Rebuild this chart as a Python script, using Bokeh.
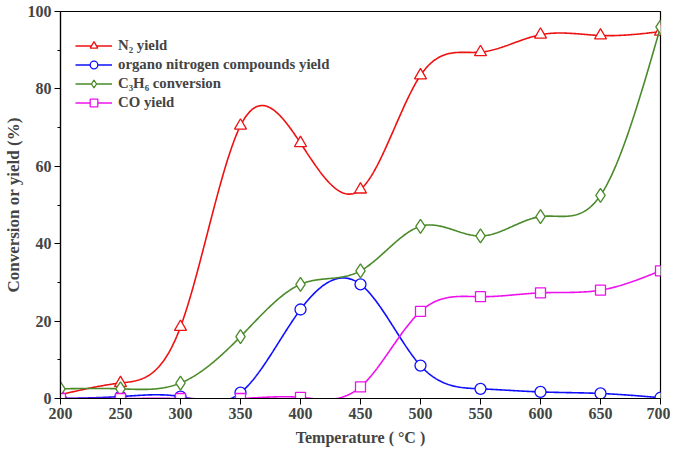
import numpy as np
from bokeh.plotting import figure
from bokeh.models import Legend, LegendItem, FixedTicker, Range1d
from bokeh.embed import file_html
from bokeh.resources import INLINE

temps = [200, 250, 300, 350, 400, 450, 500, 550, 600, 650, 700]
n2_yield = [1.0, 4.0, 18.5, 70.5, 66.0, 54.0, 83.5, 89.5, 94.0, 93.8, 94.8]
organo_n_yield = [0.0, 0.5, 0.5, 1.5, 23.0, 29.5, 8.5, 2.5, 1.7, 1.3, 0.2]
c3h6_conversion = [2.5, 2.5, 4.0, 16.0, 29.5, 33.0, 44.5, 42.0, 47.0, 52.5, 96.0]
co_yield = [0.0, 0.0, 0.0, 0.0, 0.3, 3.0, 22.5, 26.3, 27.3, 28.0, 33.0]

x_ticks = [200, 250, 300, 350, 400, 450, 500, 550, 600, 650, 700]
y_ticks = [0, 20, 40, 60, 80, 100]


def natural_spline(x, y, n=600):
    x = np.asarray(x, float)
    y = np.asarray(y, float)
    k = len(x)
    h = np.diff(x)
    A = np.zeros((k, k))
    b = np.zeros(k)
    A[0, 0] = 1
    A[-1, -1] = 1
    for i in range(1, k - 1):
        A[i, i - 1] = h[i - 1]
        A[i, i] = 2 * (h[i - 1] + h[i])
        A[i, i + 1] = h[i]
        b[i] = 3 * ((y[i + 1] - y[i]) / h[i] - (y[i] - y[i - 1]) / h[i - 1])
    c = np.linalg.solve(A, b)
    xs = np.linspace(x[0], x[-1], n)
    ys = np.empty_like(xs)
    for j, xv in enumerate(xs):
        i = min(np.searchsorted(x, xv, side="right") - 1, k - 2)
        i = max(i, 0)
        dx = xv - x[i]
        bi = (y[i + 1] - y[i]) / h[i] - h[i] * (2 * c[i] + c[i + 1]) / 3
        di = (c[i + 1] - c[i]) / (3 * h[i])
        ys[j] = y[i] + bi * dx + c[i] * dx ** 2 + di * dx ** 3
    return xs, ys


p = figure(frame_width=600, frame_height=387, output_backend="svg", toolbar_location=None,
           x_range=Range1d(200, 700), y_range=Range1d(0, 100),
           min_border_left=55, min_border_right=10, min_border_top=11, min_border_bottom=48)
p.outline_line_color = "black"
p.outline_line_width = 1.2
p.grid.visible = False
p.background_fill_color = "white"

FONT = "Liberation Serif"
for ax in (p.xaxis[0], p.yaxis[0]):
    ax.axis_line_width = 1.2
    ax.major_tick_in = 0
    ax.major_tick_out = 6
    ax.minor_tick_in = 0
    ax.minor_tick_out = 3
    ax.major_label_standoff = 3
    ax.major_label_text_font = FONT
    ax.major_label_text_font_style = "bold"
    ax.major_label_text_font_size = "16px"
    ax.axis_label_text_font = FONT
    ax.axis_label_text_font_style = "bold"

p.xaxis[0].ticker = FixedTicker(ticks=x_ticks)
p.xaxis[0].minor_tick_line_color = None
p.yaxis[0].ticker = FixedTicker(ticks=y_ticks, minor_ticks=[10, 30, 50, 70, 90])
p.xaxis[0].axis_label = "Temperature ( \u00b0C )"
p.yaxis[0].axis_label = "Conversion or yield (%)"
p.xaxis[0].axis_label_text_font_size = "16px"
p.yaxis[0].axis_label_text_font_size = "17px"
p.xaxis[0].axis_label_standoff = 7
p.yaxis[0].axis_label_standoff = 2

series = [
    ("N\u2082 yield", n2_yield, "#ee1111", "triangle", 12),
    ("organo nitrogen compounds yield", organo_n_yield, "#1010ff", "circle", 11),
    ("C\u2083H\u2086 conversion", c3h6_conversion, "#4a8a2a", "diamond", 14),
    ("CO yield", co_yield, "#ee11ee", "square", 10),
]

items = []
for label, vals, color, marker, size in series:
    xs, ys = natural_spline(temps, vals)
    ln = p.line(xs, ys, line_color=color, line_width=1.6)
    sc = p.scatter(temps, vals, marker=marker, size=size, line_color=color,
                   fill_color="white", line_width=1.3)
    items.append(LegendItem(label=label, renderers=[ln, sc]))

legend = Legend(items=items, location=(15, 286), orientation="vertical")
legend.border_line_color = None
legend.background_fill_alpha = 0
legend.padding = 0
legend.margin = 0
legend.spacing = 0
legend.glyph_width = 37
legend.glyph_height = 19
legend.label_height = 19
legend.label_standoff = 6
legend.label_text_font = FONT
legend.label_text_font_style = "bold"
legend.label_text_font_size = "14.8px"
p.add_layout(legend, "center")

open("out.html", "w").write(file_html(p, INLINE))
